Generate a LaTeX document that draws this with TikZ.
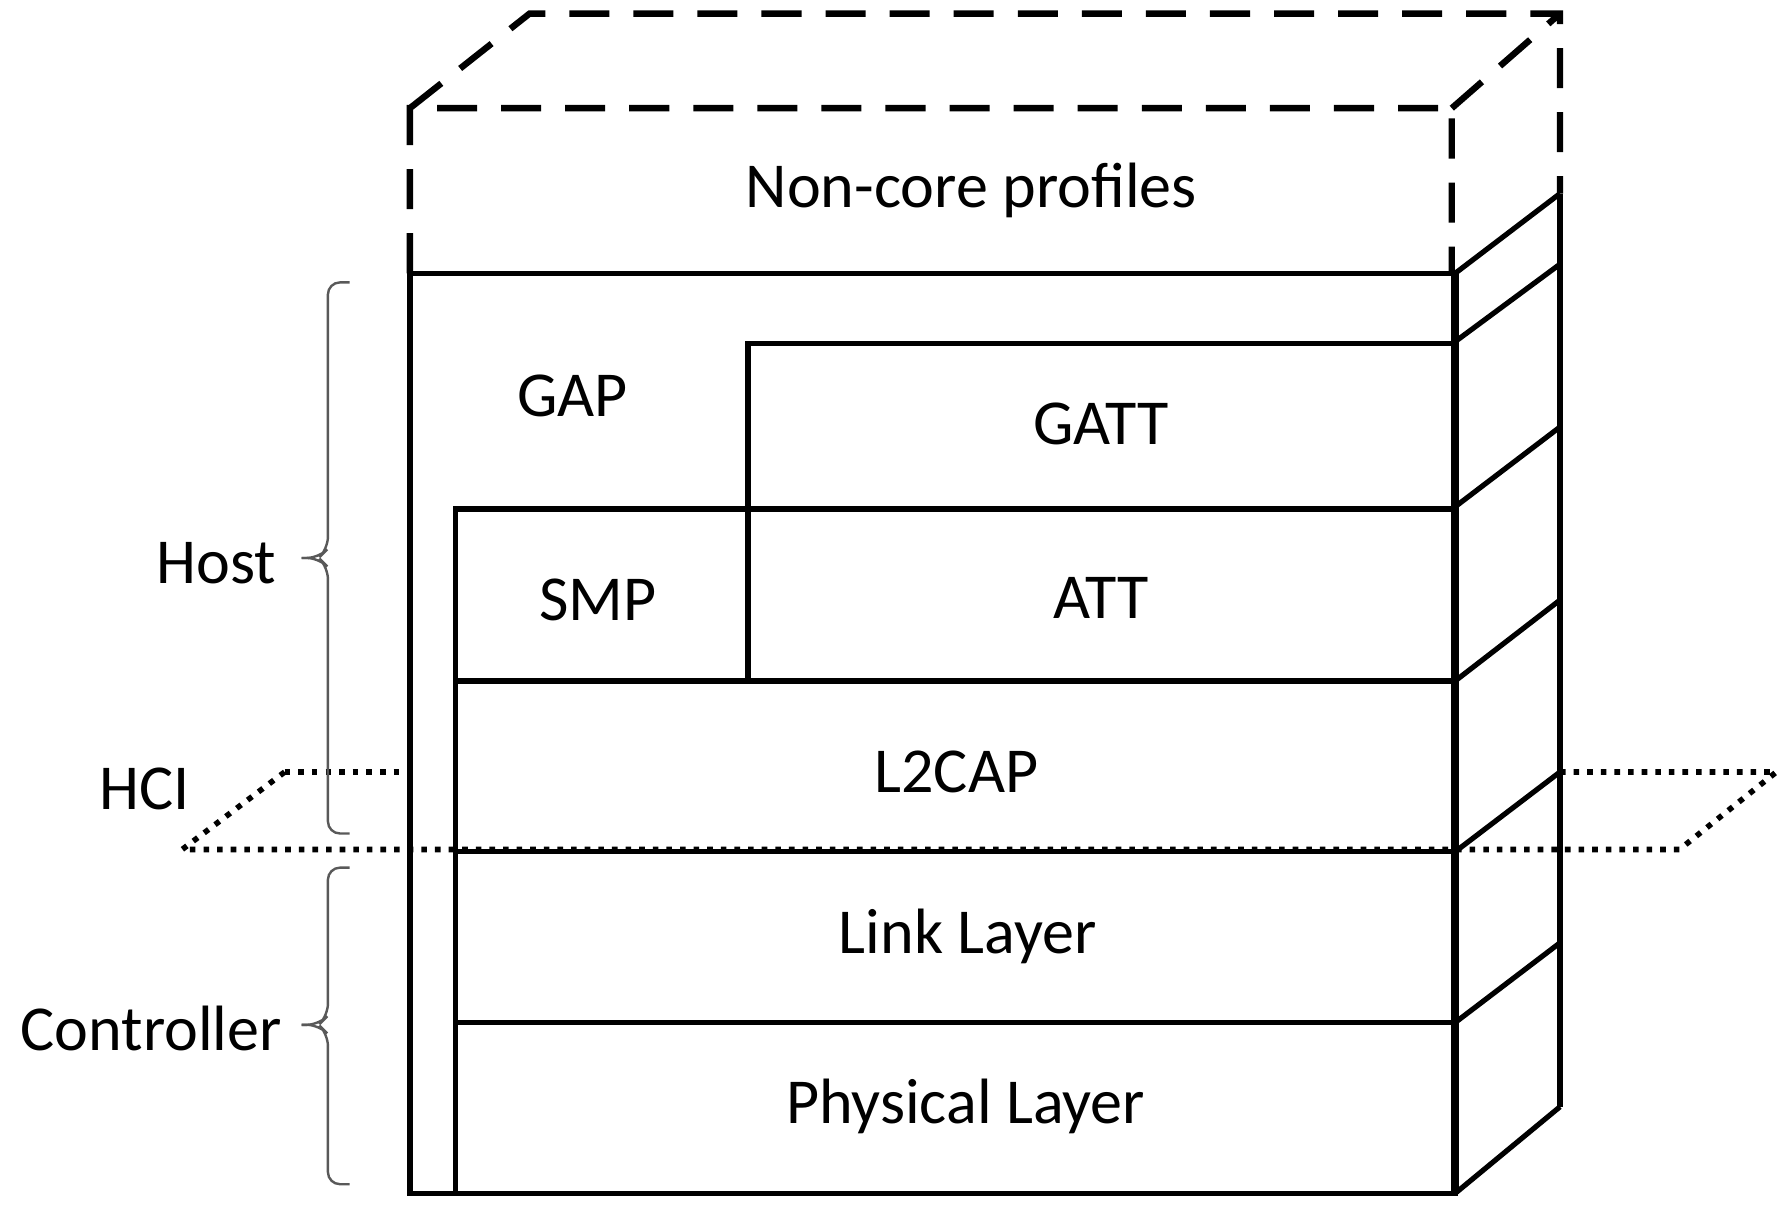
\documentclass[tikz,border=0pt]{standalone}
\usepackage{fontspec}
\setmainfont{Carlito}

\begin{document}
\begin{tikzpicture}[x=0.01cm,y=-0.01cm,
  layer/.style={draw,line width=1.3pt,minimum width=0pt},
  lbl/.style={font=\fontsize{16}{19}\selectfont},
  side/.style={line width=1.3pt},
  hci/.style={line width=1.4pt,dotted},
  bracket/.style={gray!70!black,line width=0.6pt,rounded corners=3pt}]
  \useasboundingbox (0,0) rectangle (1565,1063);
  % HCI plane (behind)
  \draw[hci] (250,678) -- (350,678);
  \draw[hci] (1370,678) -- (1560,678) -- (1475,746);
  \draw[hci] (250,678) -- (160,746) -- (1475,746);
  % dashed top part
  \draw[side,dash pattern=on 10pt off 6pt,line width=1.6pt] (360,240) -- (360,95) -- (1275,95) -- (1275,240)
    (360,95) -- (465,12) -- (1370,12) -- (1370,170) (1275,95) -- (1370,12);
  % outer box and right side
  \draw[side] (360,240) rectangle (1278,1048);
  \draw[line width=2pt] (1278,240) -- (1278,1048);
  \draw[side] (1370,170) -- (1370,972);
  \foreach \y/\z in {240/170,300/232,445/375,598/527,748/678,898/828,1048/972}
    \draw[side] (1278,\y) -- (1370,\z);
  % layers
  \draw[layer] (657,302) rectangle (1278,447);
  \draw[layer] (400,447) rectangle (1278,598);
  \draw[layer] (657,447) -- (657,598);
  \draw[layer] (400,598) rectangle (1278,748);
  \draw[layer] (400,748) rectangle (1278,898);
  \draw[layer] (400,898) rectangle (1278,1048);
  % labels
  \node[lbl] (noncore) at (853,167) {Non-core profiles};
  \node[lbl] (gap) at (503,348) {GAP};
  \node[lbl] (gatt) at (967,372) {GATT};
  \node[lbl] (smp) at (525,527) {SMP};
  \node[lbl] (att) at (967,525) {ATT};
  \node[lbl] (l2cap) at (840,678) {L2CAP};
  \node[lbl] (link) at (850,822) {Link Layer};
  \node[lbl] (phy) at (848,972) {Physical Layer};
  \node[lbl,anchor=east] (host) at (255,495) {Host};
  \node[lbl] (hcilbl) at (127,693) {HCI};
  \node[lbl,anchor=east] (ctrl) at (260,903) {Controller};
  % braces
  \coordinate (htip) at (265,490);
  \coordinate (ctip) at (265,900);
  \draw[bracket] (307,248) -- (288,248) -- (288,482) -- (280,490) -- (htip);
  \draw[bracket] (htip) -- (280,490) -- (288,498) -- (288,732) -- (307,732);
  \draw[bracket] (307,762) -- (288,762) -- (288,892) -- (280,900) -- (ctip);
  \draw[bracket] (ctip) -- (280,900) -- (288,908) -- (288,1040) -- (307,1040);
\end{tikzpicture}
\end{document}
